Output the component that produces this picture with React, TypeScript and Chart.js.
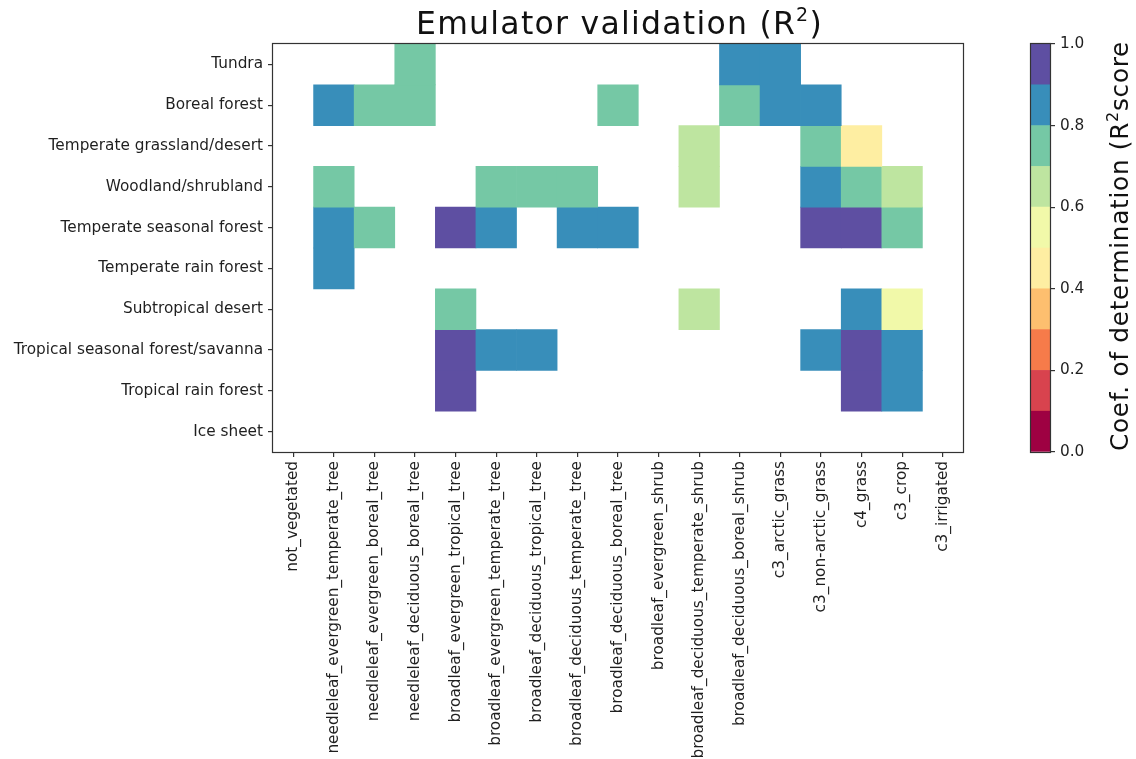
import { useEffect, useRef } from 'react';
import { Chart, registerables } from 'chart.js';

Chart.register(...registerables);

// ---------- data ----------
const rowLabels = [
  'Tundra',
  'Boreal forest',
  'Temperate grassland/desert',
  'Woodland/shrubland',
  'Temperate seasonal forest',
  'Temperate rain forest',
  'Subtropical desert',
  'Tropical seasonal forest/savanna',
  'Tropical rain forest',
  'Ice sheet',
];

const colLabels = [
  'not_vegetated',
  'needleleaf_evergreen_temperate_tree',
  'needleleaf_evergreen_boreal_tree',
  'needleleaf_deciduous_boreal_tree',
  'broadleaf_evergreen_tropical_tree',
  'broadleaf_evergreen_temperate_tree',
  'broadleaf_deciduous_tropical_tree',
  'broadleaf_deciduous_temperate_tree',
  'broadleaf_deciduous_boreal_tree',
  'broadleaf_evergreen_shrub',
  'broadleaf_deciduous_temperate_shrub',
  'broadleaf_deciduous_boreal_shrub',
  'c3_arctic_grass',
  'c3_non-arctic_grass',
  'c4_grass',
  'c3_crop',
  'c3_irrigated',
];

const _ = null;
// R² score per biome (row) and plant functional type (column)
const tundraR2 = [_, _, _, 0.76, _, _, _, _, _, _, _, 0.86, 0.87, _, _, _, _];
const borealR2 = [_, 0.84, 0.78, 0.74, _, _, _, _, 0.72, _, _, 0.77, 0.88, 0.83, _, _, _];
const tempGrassR2 = [_, _, _, _, _, _, _, _, _, _, 0.66, _, _, 0.75, 0.47, _, _];
const woodlandR2 = [_, 0.73, _, _, _, 0.77, 0.75, 0.71, _, _, 0.64, _, _, 0.85, 0.79, 0.68, _];
const tempSeasonalR2 = [_, 0.86, 0.74, _, 0.93, 0.82, _, 0.84, 0.88, _, _, _, _, 0.91, 0.94, 0.76, _];
const tempRainR2 = [_, 0.81, _, _, _, _, _, _, _, _, _, _, _, _, _, _, _];
const subtropDesertR2 = [_, _, _, _, 0.78, _, _, _, _, _, 0.63, _, _, _, 0.89, 0.57, _];
const tropSeasonalR2 = [_, _, _, _, 0.95, 0.87, 0.83, _, _, _, _, _, _, 0.86, 0.92, 0.89, _];
const tropRainR2 = [_, _, _, _, 0.96, _, _, _, _, _, _, _, _, _, 0.94, 0.85, _];
const iceSheetR2 = [_, _, _, _, _, _, _, _, _, _, _, _, _, _, _, _, _];

const r2Rows = [
  tundraR2, borealR2, tempGrassR2, woodlandR2, tempSeasonalR2,
  tempRainR2, subtropDesertR2, tropSeasonalR2, tropRainR2, iceSheetR2,
];

// discrete Spectral colormap, 10 bins over [0, 1]
const binEdges = [0, 0.1, 0.2, 0.3, 0.4, 0.5, 0.6, 0.7, 0.8, 0.9, 1.0];
const binColors = [
  '#9e0142', '#d8434e', '#f67b4a', '#fdbf6f', '#feeea2',
  '#f1f9a9', '#bee5a0', '#75c8a5', '#388eba', '#5e4fa2',
];
const colorbarTicks = [0, 0.2, 0.4, 0.6, 0.8, 1.0];

// ---------- styles ----------
const TEXT_COLOR = '#1f1f1f';
const LINE_COLOR = '#333333';
const TICK_FONT = { family: '"DejaVu Sans", sans-serif', size: 15.3 };
const TITLE_FAMILY = '"DejaVu Sans", sans-serif';

function colorFor(v: number): string {
  let i = 0;
  for (let k = 0; k < binEdges.length - 1; k++) {
    if (v >= binEdges[k]) i = k;
  }
  return binColors[Math.min(i, binColors.length - 1)];
}

type Part = { text: string; size: number; rise: number };

function drawRich(ctx: CanvasRenderingContext2D, parts: Part[], cx: number, baseY: number, targetWidth: number) {
  (ctx as any).letterSpacing = '0px';
  const natural = parts.map((p) => {
    ctx.font = `${p.size}px ${TITLE_FAMILY}`;
    return ctx.measureText(p.text).width;
  });
  const nChars = parts.reduce((s, p) => s + p.text.length, 0);
  const nat = natural.reduce((a, b) => a + b, 0);
  let ls = (targetWidth - nat) / nChars;
  if (!isFinite(ls)) ls = 0;
  ls = Math.max(-1.5, Math.min(2, ls));
  const widths = parts.map((p, i) => natural[i] + ls * p.text.length);
  const total = widths.reduce((a, b) => a + b, 0);
  let x = cx - total / 2;
  ctx.textAlign = 'left';
  ctx.textBaseline = 'alphabetic';
  (ctx as any).letterSpacing = `${ls}px`;
  parts.forEach((p, i) => {
    ctx.font = `${p.size}px ${TITLE_FAMILY}`;
    ctx.fillText(p.text, x, baseY - p.rise);
    x += widths[i];
  });
  (ctx as any).letterSpacing = '0px';
}

const framePlugin = {
  id: 'frame',
  afterDatasetsDraw(chart: any) {
    const { ctx, chartArea } = chart;
    ctx.save();
    ctx.strokeStyle = LINE_COLOR;
    ctx.lineWidth = 1.2;
    ctx.strokeRect(chartArea.left - 0.5, chartArea.top - 0.5, chartArea.right - chartArea.left + 1, chartArea.bottom - chartArea.top + 1);
    ctx.restore();
  },
};

const mainTitlePlugin = {
  id: 'mainTitle',
  afterDraw(chart: any) {
    const { ctx, chartArea } = chart;
    ctx.save();
    ctx.fillStyle = '#111';
    const cx = (chartArea.left + chartArea.right) / 2 + 1.5;
    drawRich(ctx, [
      { text: 'Emulator validation (R', size: 31.5, rise: 0 },
      { text: '2', size: 19, rise: 13 },
      { text: ')', size: 31.5, rise: 0 },
    ], cx, 34, 407);
    ctx.restore();
  },
};

const colorbarLabelPlugin = {
  id: 'cbLabel',
  afterDraw(chart: any) {
    const { ctx, chartArea } = chart;
    ctx.save();
    ctx.fillStyle = '#111';
    const cy = (chartArea.top + chartArea.bottom) / 2 - 2;
    ctx.translate(chartArea.right + 78, cy);
    ctx.rotate(-Math.PI / 2);
    drawRich(ctx, [
      { text: 'Coef. of determination (R', size: 24.7, rise: 0 },
      { text: '2', size: 16, rise: 10 },
      { text: 'score', size: 24.7, rise: 0 },
    ], 0, 0, 410);
    ctx.restore();
  },
};

export default function App() {
  const mainRef = useRef<HTMLCanvasElement | null>(null);
  const cbRef = useRef<HTMLCanvasElement | null>(null);

  useEffect(() => {
    if (!mainRef.current || !cbRef.current) return;

    const mainChart = new Chart(mainRef.current, {
      type: 'bar',
      data: {
        labels: colLabels,
        datasets: rowLabels.map((row, r) => ({
          label: row,
          data: r2Rows[r].map((v) => (v == null ? null : [r - 0.5, r + 0.5])) as any,
          backgroundColor: r2Rows[r].map((v) => (v == null ? 'rgba(0,0,0,0)' : colorFor(v))),
          borderWidth: 0,
          grouped: false,
          barPercentage: 1,
          categoryPercentage: 1,
        })),
      },
      options: {
        responsive: false,
        animation: false,
        events: [],
        layout: { padding: { left: 0, right: 37, top: 44, bottom: 0 } },
        plugins: {
          legend: { display: false },
          tooltip: { enabled: false },
          title: { display: false },
        },
        scales: {
          x: {
            type: 'category',
            offset: true,
            grid: { offset: false, drawOnChartArea: false, drawTicks: true, tickLength: 5, color: LINE_COLOR, lineWidth: 1.2 },
            border: { display: false },
            ticks: { autoSkip: false, minRotation: 90, maxRotation: 90, padding: 4, color: TEXT_COLOR, font: TICK_FONT },
            afterFit: (s: any) => { s.height = 307; },
          },
          y: {
            type: 'linear',
            min: -0.5,
            max: rowLabels.length - 0.5,
            reverse: true,
            afterBuildTicks: (s: any) => { s.ticks = rowLabels.map((_l, i) => ({ value: i })); },
            ticks: {
              autoSkip: false,
              padding: 5,
              color: TEXT_COLOR,
              font: TICK_FONT,
              callback: (_v: any, i: number) => rowLabels[i],
            },
            grid: { drawOnChartArea: false, drawTicks: true, tickLength: 5, color: LINE_COLOR, lineWidth: 1.2 },
            border: { display: false },
            afterFit: (s: any) => { s.width = 273; },
          },
        },
      } as any,
      plugins: [framePlugin, mainTitlePlugin],
    });

    const cbChart = new Chart(cbRef.current, {
      type: 'bar',
      data: {
        labels: [''],
        datasets: binColors.map((c, i) => ({
          label: `${binEdges[i]}`,
          data: [[binEdges[i], binEdges[i + 1]]] as any,
          backgroundColor: c,
          borderWidth: 0,
          grouped: false,
          barPercentage: 1,
          categoryPercentage: 1,
        })),
      },
      options: {
        responsive: false,
        animation: false,
        events: [],
        layout: { padding: { left: 31, right: 0, top: 44, bottom: 307 } },
        plugins: {
          legend: { display: false },
          tooltip: { enabled: false },
          title: { display: false },
        },
        scales: {
          x: { display: false },
          y: {
            position: 'right',
            min: 0,
            max: 1,
            afterBuildTicks: (s: any) => { s.ticks = colorbarTicks.map((v) => ({ value: v })); },
            ticks: {
              padding: 5,
              color: TEXT_COLOR,
              font: TICK_FONT,
              callback: (v: any) => Number(v).toFixed(1),
            },
            grid: { drawOnChartArea: false, drawTicks: true, tickLength: 5, color: LINE_COLOR, lineWidth: 1.2 },
            border: { display: false },
            afterFit: (s: any) => { s.width = 86; },
          },
        },
      } as any,
      plugins: [framePlugin, colorbarLabelPlugin],
    });

    return () => {
      mainChart.destroy();
      cbChart.destroy();
    };
  }, []);

  return (
    <div style={{ position: 'fixed', left: 0, top: 0, width: 1136, height: 759, background: '#fff', overflow: 'hidden' }}>
      <canvas ref={mainRef} width={1000} height={759} style={{ position: 'absolute', left: 0, top: 0 }} />
      <canvas ref={cbRef} width={136} height={759} style={{ position: 'absolute', left: 1000, top: 0 }} />
    </div>
  );
}
